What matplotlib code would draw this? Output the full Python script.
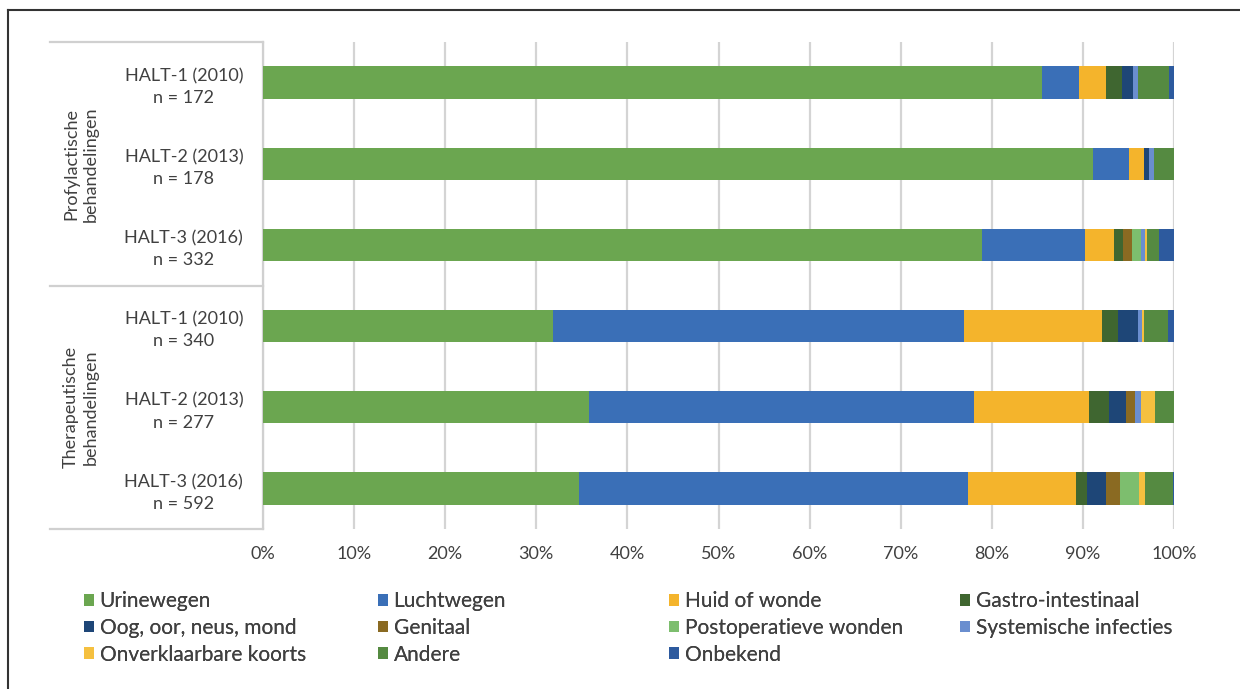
import matplotlib
matplotlib.use("Agg")
import matplotlib.pyplot as plt
from matplotlib.patches import Patch
from matplotlib.lines import Line2D
import numpy as np

plt.rcParams['font.family'] = ['Lato', 'DejaVu Sans']

categories = ["HALT-1 (2010)\nn = 172", "HALT-2 (2013)\nn = 178", "HALT-3 (2016)\nn = 332",
              "HALT-1 (2010)\nn = 340", "HALT-2 (2013)\nn = 277", "HALT-3 (2016)\nn = 592"]
groups = ["Profylactische\nbehandelingen", "Therapeutische\nbehandelingen"]

series_names = ["Urinewegen", "Luchtwegen", "Huid of wonde", "Gastro-intestinaal",
                "Oog, oor, neus, mond", "Genitaal", "Postoperatieve wonden",
                "Systemische infecties", "Onverklaarbare koorts", "Andere", "Onbekend"]

urinewegen = [85.5, 91.1, 78.9, 31.8, 35.8, 34.7]
luchtwegen = [4.1, 4.0, 11.3, 45.1, 42.3, 42.7]
huid = [2.9, 1.6, 3.2, 15.2, 12.6, 11.8]
gastro = [1.8, 0.0, 1.0, 1.7, 2.2, 1.3]
oog = [1.2, 0.6, 0.0, 2.2, 1.8, 2.0]
genitaal = [0.0, 0.0, 1.0, 0.0, 1.0, 1.6]
postop = [0.0, 0.0, 1.0, 0.0, 0.0, 2.1]
systemisch = [0.5, 0.5, 0.4, 0.5, 0.7, 0.0]
koorts = [0.0, 0.0, 0.2, 0.2, 1.5, 0.6]
andere = [3.5, 2.2, 1.3, 2.6, 2.1, 3.1]
onbekend = [0.5, 0.0, 1.7, 0.7, 0.0, 0.1]

series_values = [urinewegen, luchtwegen, huid, gastro, oog, genitaal, postop,
                 systemisch, koorts, andere, onbekend]
colors = ["#6BA650", "#3A6FB7", "#F4B42C", "#3F6630", "#1E4677", "#8A6A22",
          "#7DBE6E", "#6A8ECF", "#F5C03F", "#558A41", "#2D5A9E"]

W, H = 1240, 689
fig = plt.figure(figsize=(W / 100, H / 100), dpi=100)
ax = fig.add_axes([263 / W, 1 - 529 / H, (1174 - 263) / W, (529 - 42) / H])

y = np.arange(len(categories))
left = np.zeros(len(categories))
for name, vals, c in zip(series_names, series_values, colors):
    v = np.array(vals)
    ax.barh(y, v, left=left, height=0.4, color=c, edgecolor='none', label=name, zorder=3)
    left += v

ax.set_xlim(0, 100)
ax.set_ylim(len(categories) - 0.5, -0.5)
ax.set_xticks(np.arange(0, 101, 10))
ax.set_xticklabels([f"{t}%" for t in range(0, 101, 10)])
ax.set_yticks(y)
ax.set_yticklabels(categories, ha='center', linespacing=1.45)
ax.tick_params(axis='y', length=0, pad=57, labelsize=13, labelcolor='#404040')
ax.tick_params(axis='x', length=0, pad=12, labelsize=13, labelcolor='#404040')
ax.grid(axis='x', color='#d4d4d4', lw=1.6, zorder=0)
for s in ['top', 'right', 'bottom']:
    ax.spines[s].set_visible(False)
ax.spines['left'].set_color('#d0d0d0')
ax.spines['left'].set_linewidth(1.6)

# group box lines
trans = ax.get_yaxis_transform()
x0 = (50 - 263) / (1174 - 263)
for yy in [-0.5, 2.5, 5.5]:
    ax.plot([x0, 0], [yy, yy], transform=trans, color='#d0d0d0', lw=1.6, clip_on=False)
gx = (81 - 263) / (1174 - 263)
ax.text(gx, 1, groups[0], transform=trans, rotation=90, ha='center', va='center',
        fontsize=13, color='#404040', linespacing=1.3)
ax.text(gx, 4, groups[1], transform=trans, rotation=90, ha='center', va='center',
        fontsize=13, color='#404040', linespacing=1.3)

# legend: 4 columns, row-major order
handles = [Patch(facecolor=c, edgecolor='none') for c in colors]
col_x = [84, 378, 669, 960]
for ci in range(4):
    idx = [i for i in range(len(series_names)) if i % 4 == ci]
    leg = fig.legend([handles[i] for i in idx], [series_names[i] for i in idx],
                     loc='upper left', bbox_to_anchor=(col_x[ci] / W, 1 - 591 / H),
                     frameon=False, fontsize=15, labelcolor='#404040',
                     handlelength=0.5, handleheight=0.5, handletextpad=0.25,
                     labelspacing=0.33, borderpad=0, borderaxespad=0)
    fig.add_artist(leg)

# outer frame
fig.add_artist(Line2D([8 / W, 8 / W], [0, 1 - 10 / H], transform=fig.transFigure,
                      color='#333333', lw=1.5))
fig.add_artist(Line2D([8 / W, 1], [1 - 10 / H, 1 - 10 / H], transform=fig.transFigure,
                      color='#333333', lw=1.5))

fig.savefig("out.png", dpi=100)
